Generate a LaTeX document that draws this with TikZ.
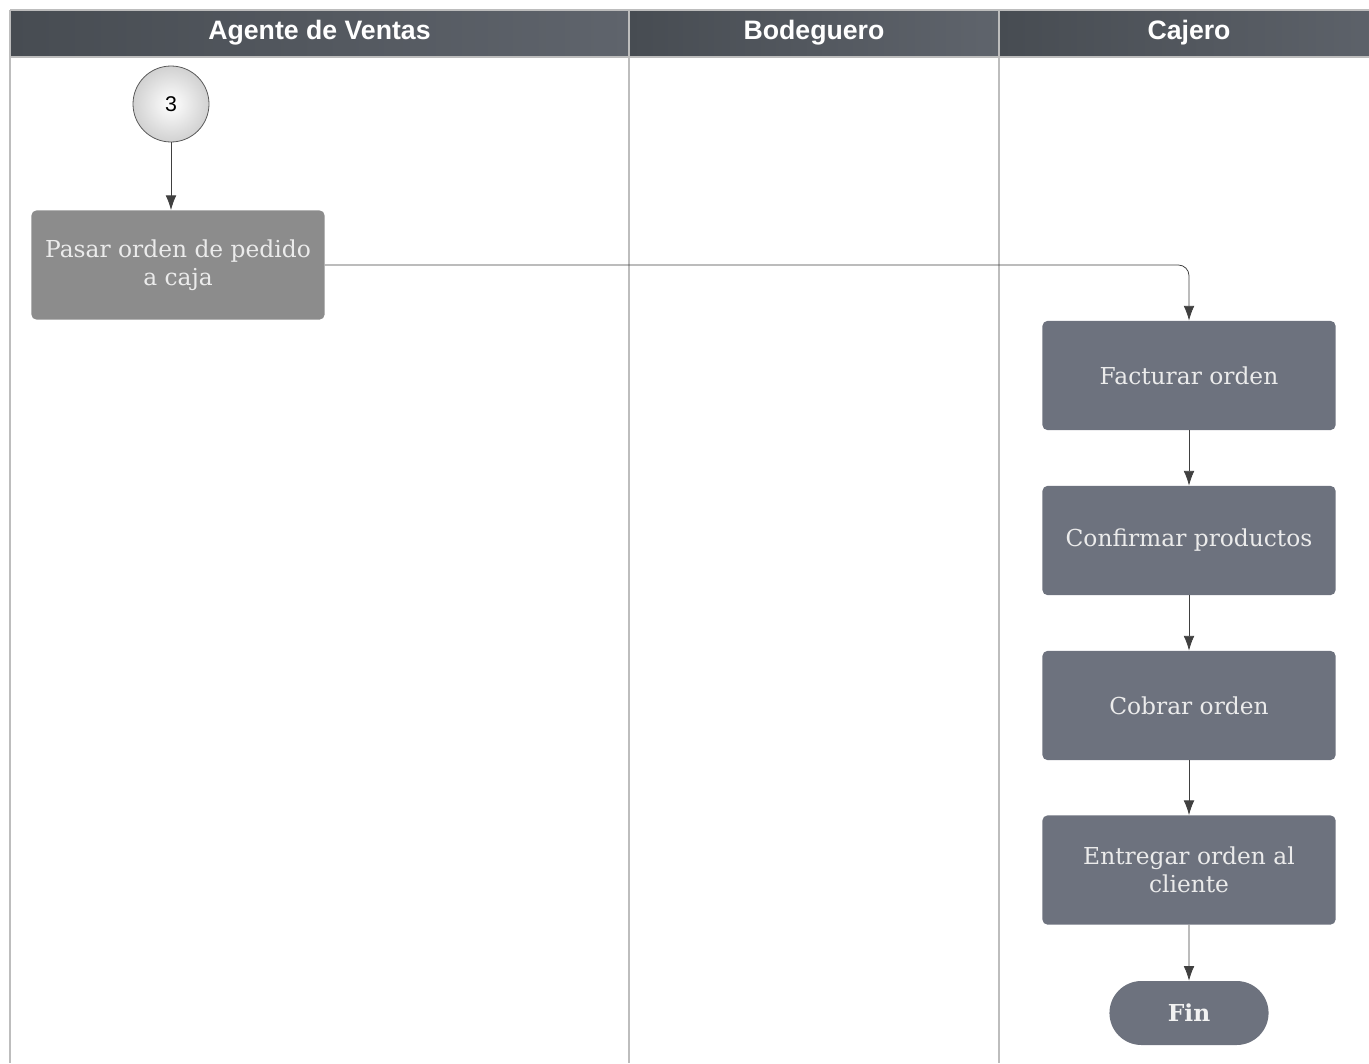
\documentclass[tikz,border=0pt]{standalone}
\usepackage{fontspec}
\setmainfont{DejaVu Serif}
\setsansfont{Liberation Sans}
\usetikzlibrary{arrows.meta,positioning,calc,shapes.misc}

\definecolor{headdark}{HTML}{474C52}
\definecolor{headlight}{HTML}{5F646C}
\definecolor{boxgray}{HTML}{8C8C8C}
\definecolor{boxslate}{HTML}{6D727E}
\definecolor{laneline}{HTML}{BDBDBD}

\begin{document}
\begin{tikzpicture}[x=0.75pt,y=-0.75pt,
  lanehead/.style={font=\sffamily\bfseries\fontsize{20}{22}\selectfont,text=white},
  task/.style={fill=boxslate,rounded corners=4pt,minimum width=220pt,minimum height=82pt,
    text=white!92!black,font=\fontsize{17.5}{21}\selectfont,align=center,inner sep=2pt},
  flow/.style={-{Latex[length=11pt,width=8pt]},draw=black!75,line width=0.6pt}]
  \useasboundingbox (0,0) rectangle (1369,1063);
  % lane headers
  \shade[left color=headdark,right color=headlight] (10,10) rectangle (629,57);
  \shade[left color=headdark,right color=headlight] (629,10) rectangle (999,57);
  \shade[left color=headdark,right color=headlight!90!headdark] (999,10) rectangle (1369,57);
  \draw[laneline,line width=1.5pt] (10,10) -- (1369,10);
  \draw[laneline,line width=1.5pt] (10,57) -- (1369,57);
  \draw[laneline,line width=1.5pt] (10,10) -- (10,1063);
  \draw[laneline,line width=1.5pt] (629,10) -- (629,1063);
  \draw[laneline,line width=1.5pt] (999,10) -- (999,1063);
  \node[lanehead] (h1) at (319.5,33) {Agente de Ventas};
  \node[lanehead] (h2) at (814,33) {Bodeguero};
  \node[lanehead] (h3) at (1189,33) {Cajero};
  % nodes
  \node[circle,draw=black!65,line width=0.6pt,minimum size=57pt,inner sep=0pt,
    shading=radial,inner color=white,outer color=black!18,
    font=\sffamily\fontsize{16}{18}\selectfont] (conn) at (171,104) {3};
  \node[task,fill=boxgray] (pasar) at (178,265) {Pasar orden de pedido\\a caja};
  \node[task] (fact) at (1189,375.5) {Facturar orden};
  \node[task] (conf) at (1189,540.5) {Confirmar productos};
  \node[task] (cobr) at (1189,705.5) {Cobrar orden};
  \node[task] (entr) at (1189,870) {Entregar orden al\\cliente};
  \node[rounded rectangle,fill=boxslate,minimum width=126pt,minimum height=48pt,
    text=white!95!black,font=\bfseries\fontsize{17.5}{21}\selectfont] (fin) at (1189,1013) {Fin};
  % connectors
  \draw[flow] (conn.south) -- (conn.south |- pasar.north);
  \draw[flow,rounded corners=8pt] (pasar.east) -| (fact.north);
  \draw[flow] (fact) -- (conf);
  \draw[flow] (conf) -- (cobr);
  \draw[flow] (cobr) -- (entr);
  \draw[flow] (entr) -- (fin);
\end{tikzpicture}
\end{document}
